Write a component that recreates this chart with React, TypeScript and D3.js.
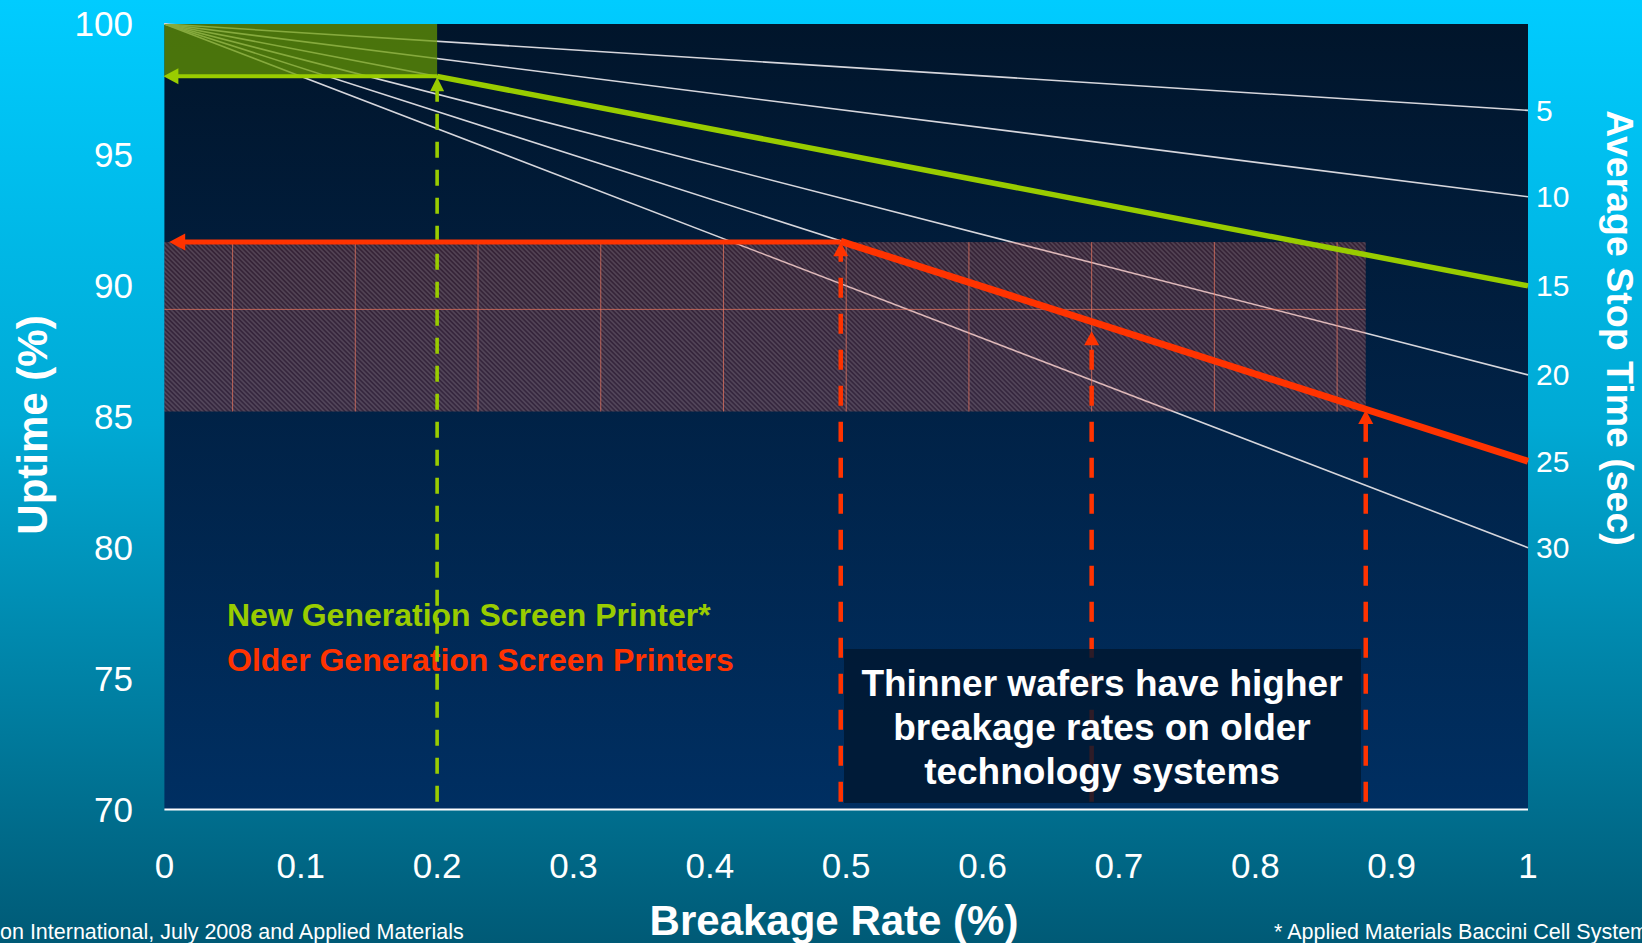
import React from "react";
import * as d3 from "d3";

// ---------- data ----------
const stopTimes = [5, 10, 15, 20, 25, 30];
const uptimeAtZeroBreakage = 100;
const uptimeAtFullBreakage = [96.7, 93.4, 90.0, 86.6, 83.3, 80.0];

const xTicks = [0, 0.1, 0.2, 0.3, 0.4, 0.5, 0.6, 0.7, 0.8, 0.9, 1];
const xTickLabels = ["0", "0.1", "0.2", "0.3", "0.4", "0.5", "0.6", "0.7", "0.8", "0.9", "1"];
const yTicks = [70, 75, 80, 85, 90, 95, 100];

// new generation printer
const newGenRate = 0.2;
const newGenUptime = 98.0;
const newGenLineEnd = [1, 90.0];

// older generation printers
const oldRates = [0.496, 0.68, 0.881];
const oldArrowTips = [91.7, 88.3, 85.3];
const oldLineStart = [0.496, 91.7];
const oldLineEnd = [1, 83.3];
const bandTop = 91.67;
const bandBottom = 85.2;
const bandRight = 0.881;
const bandGridX = [0.05, 0.14, 0.23, 0.32, 0.41, 0.5, 0.59, 0.68, 0.77, 0.86];
const bandGridY = [89.1];

const legendNew = "New Generation Screen Printer*";
const legendOld = "Older Generation Screen Printers";
const noteLines = ["Thinner wafers have higher", "breakage rates on older", "technology systems"];
const footLeft = "on International, July 2008 and Applied Materials";
const footRight = "* Applied Materials Baccini Cell System";

const W = 1642;
const H = 943;
const FONT = "'Liberation Sans', Arial, Helvetica, sans-serif";
const GREEN = "#99cc00";
const RED = "#ff3300";

export default function App() {
  const x = d3.scaleLinear().domain([0, 1]).range([164.4, 1528]);
  const y = d3.scaleLinear().domain([70, 100]).range([809.5, 24]);
  const line = d3.line<[number, number]>().x((d) => x(d[0])).y((d) => y(d[1]));

  const leftArrow = (tipX: number, tipY: number, len: number, half: number) =>
    `M${tipX},${tipY} L${tipX + len},${tipY - half} L${tipX + len},${tipY + half} Z`;
  const upArrow = (tipX: number, tipY: number, len: number, half: number) =>
    `M${tipX},${tipY} L${tipX - half},${tipY + len} L${tipX + half},${tipY + len} Z`;

  const plotLeft = x(0);
  const plotRight = x(1);
  const plotTop = y(100);
  const plotBottom = y(70);

  return (
    <div>
      <style>{`body{margin:0;padding:0;overflow:hidden;}`}</style>
      <svg width={W} height={H} style={{ display: "block" }}>
        <defs>
          <linearGradient id="pageBg" x1="0" y1="0" x2="0" y2="1">
            <stop offset="0" stopColor="#00ccff" />
            <stop offset="0.45" stopColor="#00a9d4" />
            <stop offset="1" stopColor="#005a76" />
          </linearGradient>
          <linearGradient id="plotBg" x1="0" y1="0" x2="0" y2="1">
            <stop offset="0" stopColor="#01152b" />
            <stop offset="1" stopColor="#002f62" />
          </linearGradient>
          <pattern id="hatch" width="3.3" height="3.3" patternUnits="userSpaceOnUse" patternTransform="rotate(-45)">
            <line x1="0.8" y1="0" x2="0.8" y2="3.3" stroke="#ffffff" strokeOpacity="0.16" strokeWidth="1.4" />
          </pattern>
        </defs>

        <rect x={0} y={0} width={W} height={H} fill="url(#pageBg)" />
        <rect x={plotLeft} y={plotTop} width={plotRight - plotLeft} height={plotBottom - plotTop} fill="url(#plotBg)" />

        {/* stop-time lines */}
        {stopTimes.map((t, i) => (
          <path
            key={t}
            d={line([
              [0, uptimeAtZeroBreakage],
              [1, uptimeAtFullBreakage[i]],
            ]) as string}
            stroke="#d6d6dc"
            strokeWidth={1.6}
            fill="none"
          />
        ))}

        {/* hatched band */}
        <rect
          x={x(0)}
          y={y(bandTop)}
          width={x(bandRight) - x(0)}
          height={y(bandBottom) - y(bandTop)}
          fill="rgb(235,60,45)"
          fillOpacity={0.23}
        />
        <rect
          x={x(0)}
          y={y(bandTop)}
          width={x(bandRight) - x(0)}
          height={y(bandBottom) - y(bandTop)}
          fill="url(#hatch)"
        />
        {bandGridX.map((g) => (
          <line key={"gx" + g} x1={x(g)} x2={x(g)} y1={y(bandTop)} y2={y(bandBottom)} stroke="#f07860" strokeOpacity={0.7} strokeWidth={1} />
        ))}
        {bandGridY.map((g) => (
          <line key={"gy" + g} x1={x(0)} x2={x(bandRight)} y1={y(g)} y2={y(g)} stroke="#f07860" strokeOpacity={0.7} strokeWidth={1} />
        ))}

        {/* green highlight rect */}
        <rect
          x={x(0)}
          y={y(100)}
          width={x(newGenRate) - x(0)}
          height={y(newGenUptime) - y(100)}
          fill="#669900"
          fillOpacity={0.72}
        />

        {/* legend */}
        <text x={227} y={626} fill={GREEN} fontFamily={FONT} fontWeight="bold" fontSize={32}>
          {legendNew}
        </text>
        <text x={227} y={671} fill={RED} fontFamily={FONT} fontWeight="bold" fontSize={32}>
          {legendOld}
        </text>

        {/* green dashed vertical */}
        <line
          x1={x(newGenRate)}
          x2={x(newGenRate)}
          y1={y(70.3)}
          y2={y(newGenUptime) + 12}
          stroke={GREEN}
          strokeWidth={3.6}
          strokeDasharray="16 12"
        />
        <path d={upArrow(x(newGenRate), y(newGenUptime) + 1, 14, 7)} fill={GREEN} />
        {/* green horizontal arrow */}
        <line x1={x(newGenRate)} x2={x(0) + 12} y1={y(newGenUptime)} y2={y(newGenUptime)} stroke={GREEN} strokeWidth={4} />
        <path d={leftArrow(x(0) - 1, y(newGenUptime), 15, 8)} fill={GREEN} />
        {/* green thick line */}
        <path
          d={line([[newGenRate, newGenUptime], newGenLineEnd as [number, number]]) as string}
          stroke={GREEN}
          strokeWidth={5.5}
          fill="none"
        />

        {/* red dashed verticals */}
        {oldRates.map((r, i) => (
          <g key={"r" + r}>
            <line
              x1={x(r)}
              x2={x(r)}
              y1={y(70.3)}
              y2={y(oldArrowTips[i]) + 13}
              stroke={RED}
              strokeWidth={4.5}
              strokeDasharray="20 16"
            />
            <path d={upArrow(x(r), y(oldArrowTips[i]) + 1, 14, 7.5)} fill={RED} />
          </g>
        ))}
        {/* red horizontal arrow */}
        <line x1={x(oldLineStart[0])} x2={x(0) + 16} y1={y(bandTop)} y2={y(bandTop)} stroke={RED} strokeWidth={5} />
        <path d={leftArrow(x(0.0035), y(bandTop), 16, 8.5)} fill={RED} />
        {/* red thick line */}
        <path
          d={line([oldLineStart as [number, number], oldLineEnd as [number, number]]) as string}
          stroke={RED}
          strokeWidth={7}
          fill="none"
        />

        {/* note box */}
        <rect x={844} y={649} width={517} height={154} fill="#00172f" fillOpacity={0.82} />
        {noteLines.map((t, i) => (
          <text
            key={t}
            x={1102}
            y={696 + i * 44}
            textAnchor="middle"
            fill="#ffffff"
            fontFamily={FONT}
            fontWeight="bold"
            fontSize={37}
          >
            {t}
          </text>
        ))}

        {/* x axis line */}
        <line x1={plotLeft} x2={plotRight} y1={plotBottom} y2={plotBottom} stroke="#ffffff" strokeWidth={2} />

        {/* y tick labels */}
        {yTicks.map((v) => (
          <text key={"y" + v} x={133} y={y(v) + 12} textAnchor="end" fill="#ffffff" fontFamily={FONT} fontSize={35}>
            {v}
          </text>
        ))}
        {/* x tick labels */}
        {xTicks.map((v, i) => (
          <text key={"x" + v} x={x(v)} y={878} textAnchor="middle" fill="#ffffff" fontFamily={FONT} fontSize={35}>
            {xTickLabels[i]}
          </text>
        ))}
        {/* right axis labels */}
        {stopTimes.map((t, i) => (
          <text key={"s" + t} x={1536} y={y(uptimeAtFullBreakage[i]) + 10.5} fill="#ffffff" fontFamily={FONT} fontSize={30}>
            {t}
          </text>
        ))}

        {/* axis titles */}
        <text
          transform={`translate(47,425) rotate(-90)`}
          textAnchor="middle"
          fill="#ffffff"
          fontFamily={FONT}
          fontWeight="bold"
          fontSize={42}
        >
          Uptime (%)
        </text>
        <text
          transform={`translate(1607,328) rotate(90)`}
          textAnchor="middle"
          fill="#ffffff"
          fontFamily={FONT}
          fontWeight="bold"
          fontSize={37.5}
        >
          Average Stop Time (sec)
        </text>
        <text x={834} y={935} textAnchor="middle" fill="#ffffff" fontFamily={FONT} fontWeight="bold" fontSize={42}>
          Breakage Rate (%)
        </text>

        {/* footnotes */}
        <text x={0} y={939} fill="#ffffff" fontFamily={FONT} fontSize={21.5}>
          {footLeft}
        </text>
        <text x={1274} y={939} fill="#ffffff" fontFamily={FONT} fontSize={21.5}>
          {footRight}
        </text>
      </svg>
    </div>
  );
}
